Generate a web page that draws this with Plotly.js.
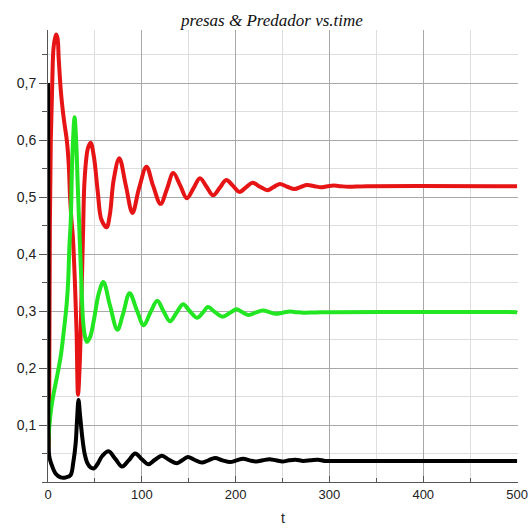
<!DOCTYPE html>
<html>
<head>
<meta charset="utf-8">
<script src="https://cdn.plot.ly/plotly-3.0.1.min.js"></script>
<style>html,body{margin:0;padding:0;background:#fff;}#chart{width:530px;height:529px;}</style>
</head>
<body>
<div id="chart"></div>
<script>
// Red series (t, value)
var redT = [0, 0.8, 1.5, 2, 3, 4.6, 6, 8.5, 10, 11.5, 14, 17, 20, 22, 23.5, 25, 26.5, 28.6, 30.4, 32, 33.9, 35.7, 37.4, 39, 42.5, 45.5, 49, 53, 57, 62.5, 66, 70, 76, 83, 90, 97, 105, 112, 120, 127, 133.5, 141, 148, 155, 162, 169, 176, 183, 190, 197, 204, 211, 218, 226, 234, 240, 247, 255, 263, 270, 276, 284, 291, 298, 305, 312, 320, 340, 500];
var redY = [0.05, 0.07, 0.25, 0.45, 0.6, 0.705, 0.763, 0.785, 0.78, 0.74, 0.68, 0.635, 0.6, 0.56, 0.5, 0.46, 0.43, 0.354, 0.267, 0.153, 0.21, 0.325, 0.44, 0.53, 0.585, 0.595, 0.57, 0.51, 0.46, 0.447, 0.47, 0.53, 0.568, 0.52, 0.472, 0.515, 0.553, 0.52, 0.488, 0.515, 0.542, 0.52, 0.498, 0.515, 0.533, 0.518, 0.503, 0.516, 0.53, 0.52, 0.509, 0.517, 0.525, 0.518, 0.512, 0.517, 0.523, 0.518, 0.514, 0.518, 0.521, 0.519, 0.517, 0.519, 0.52, 0.519, 0.518, 0.519, 0.519];

// Green series
var greenT = [0, 1.5, 3.5, 6, 9, 13.5, 17, 20, 21.7, 22.7, 24.3, 25.5, 27, 28.3, 30, 31.5, 33.5, 35.5, 37.5, 39.5, 41.5, 45, 49, 54, 59, 66, 74, 80, 87, 95, 102, 109, 116.5, 123, 130, 137, 144, 151, 159, 165, 170.5, 178, 186, 194, 201, 207, 214, 221, 229, 236, 243, 250, 258, 265, 272, 290, 500];
var greenY = [0.055, 0.1, 0.13, 0.155, 0.18, 0.22, 0.267, 0.314, 0.36, 0.41, 0.46, 0.547, 0.61, 0.64, 0.6, 0.53, 0.44, 0.354, 0.28, 0.255, 0.246, 0.255, 0.285, 0.33, 0.351, 0.31, 0.267, 0.295, 0.331, 0.3, 0.275, 0.297, 0.318, 0.3, 0.282, 0.297, 0.312, 0.3, 0.288, 0.297, 0.307, 0.298, 0.29, 0.297, 0.303, 0.298, 0.293, 0.297, 0.301, 0.298, 0.295, 0.297, 0.299, 0.298, 0.297, 0.298, 0.298];

// Black series
var blackT = [0, 0.6, 1, 2, 4.6, 8, 13.5, 19, 24, 27, 29.5, 31, 32.5, 34, 36.5, 39, 42, 45, 49, 53, 58, 64.5, 72, 79, 86, 93, 100, 107, 114, 121.5, 129, 137.5, 143, 149, 156, 164, 171, 178, 186, 194, 201, 208, 215, 222, 229, 236, 243, 250, 257, 264, 272, 280, 288, 295, 310, 500];
var blackY = [0.7, 0.3, 0.05, 0.04, 0.027, 0.015, 0.008, 0.008, 0.012, 0.035, 0.068, 0.11, 0.144, 0.12, 0.079, 0.05, 0.033, 0.026, 0.024, 0.032, 0.046, 0.054, 0.04, 0.027, 0.038, 0.05, 0.04, 0.031, 0.039, 0.046, 0.039, 0.033, 0.038, 0.044, 0.039, 0.034, 0.038, 0.042, 0.038, 0.035, 0.038, 0.041, 0.038, 0.036, 0.038, 0.04, 0.038, 0.036, 0.038, 0.039, 0.037, 0.038, 0.039, 0.037, 0.037, 0.037];

// Tick labels
var xTickVals = [0, 100, 200, 300, 400, 500];
var xTickText = ["0", "100", "200", "300", "400", "500"];
var yTickVals = [0.1, 0.2, 0.3, 0.4, 0.5, 0.6, 0.7];
var yTickText = ["0,1", "0,2", "0,3", "0,4", "0,5", "0,6", "0,7"];

function series(x, y, color) {
  return {x: x, y: y, type: 'scatter', mode: 'lines',
          line: {color: color, width: 4, shape: 'spline', smoothing: 1},
          showlegend: false, hoverinfo: 'skip'};
}

var data = [
  series(redT, redY, '#e61414'),
  series(greenT, greenY, '#22e622'),
  series(blackT, blackY, '#000000')
];

var yTickFont = {family: 'Liberation Sans, Arial, sans-serif', size: 14, color: '#222'};
var xTickFont = {family: 'Liberation Sans, Arial, sans-serif', size: 13, color: '#222'};

var layout = {
  width: 530, height: 529,
  margin: {l: 48, r: 12, t: 30, b: 47},
  paper_bgcolor: '#ffffff', plot_bgcolor: '#ffffff',
  separators: ', ',
  title: {
    text: 'presas & Predador vs.time',
    font: {family: 'Liberation Serif, Times New Roman, serif', size: 17, style: 'italic', color: '#111'},
    x: 0.513, xref: 'container', xanchor: 'center',
    y: 0.962, yref: 'container', yanchor: 'middle'
  },
  xaxis: {
    range: [0, 501],
    tickmode: 'array', tickvals: xTickVals, ticktext: xTickText,
    showgrid: true, gridcolor: '#a8a8a8', gridwidth: 1,
    zeroline: false,
    showline: true, linecolor: '#555', linewidth: 1,
    ticks: 'inside', ticklen: 6, tickcolor: '#555',
    tickfont: xTickFont, ticklabeloverflow: 'allow',
    minor: {dtick: 50, tick0: 0, showgrid: true, gridcolor: '#dedede', gridwidth: 1, ticks: 'inside', ticklen: 4, tickcolor: '#555'},
    title: {text: 't', font: {family: 'Liberation Sans, Arial, sans-serif', size: 14, color: '#222'}, standoff: 12}
  },
  yaxis: {
    range: [0, 0.793],
    tickmode: 'array', tickvals: yTickVals, ticktext: yTickText,
    showgrid: true, gridcolor: '#a8a8a8', gridwidth: 1,
    zeroline: false,
    showline: true, linecolor: '#555', linewidth: 1,
    ticks: 'outside', ticklen: 8, tickcolor: '#555',
    tickfont: yTickFont,
    minor: {dtick: 0.05, tick0: 0, showgrid: true, gridcolor: '#dedede', gridwidth: 1, ticks: 'outside', ticklen: 5, tickcolor: '#555'}
  }
};

Plotly.newPlot('chart', data, layout, {staticPlot: true, displayModeBar: false});
</script>
</body>
</html>
